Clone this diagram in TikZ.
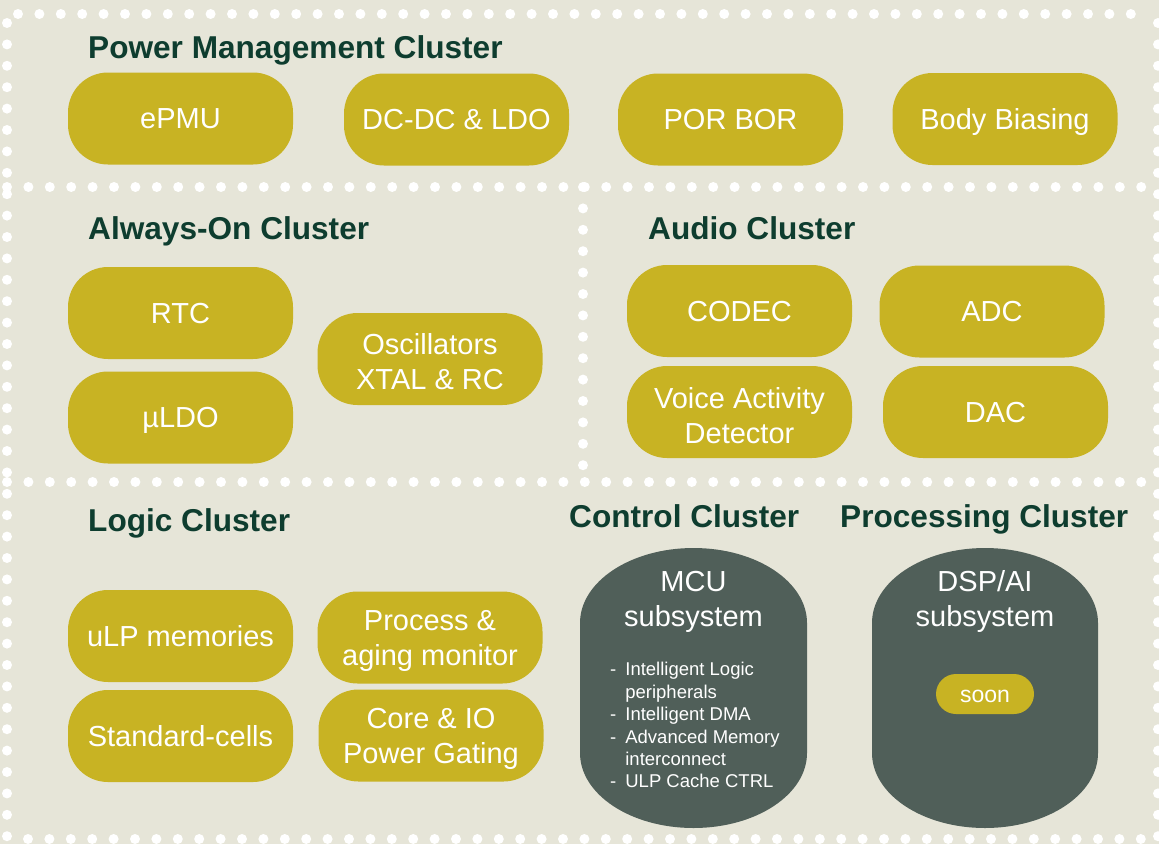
\documentclass[tikz,border=0pt]{standalone}
\usepackage{fontspec}
\setmainfont{Liberation Sans}
\definecolor{paper}{HTML}{E6E5D8}
\definecolor{gold}{HTML}{C8B323}
\definecolor{heading}{HTML}{0E3D2F}
\definecolor{slate}{HTML}{505F59}
\tikzset{
  dots/.style={draw=white, line width=10pt, line cap=round, dash pattern=on 0pt off 21.4pt},
  pillbase/.style={fill=gold, rounded corners=40pt, minimum width=225pt, minimum height=92pt,
    text=white, align=center, inner sep=0pt, font=\fontsize{29}{35}\selectfont},
  pill/.style={pillbase, text height=20.8pt, text depth=0pt},
  pilltwo/.style={pillbase},
  title/.style={anchor=base west, text=heading, inner sep=0pt, font=\fontsize{31.6}{36}\selectfont\bfseries},
  subtitle/.style={text=white, align=center, inner sep=0pt, font=\fontsize{29}{35}\selectfont},
  itemlist/.style={text=white, align=left, inner sep=0pt, anchor=north west, font=\fontsize{18.5}{22.4}\selectfont},
  badge/.style={fill=gold, rounded corners=20pt, minimum width=98pt, minimum height=40pt,
    text=white, inner sep=0pt, font=\fontsize{23}{26}\selectfont},
  capsule/.style={fill=slate}
}
\begin{document}
\begin{tikzpicture}[x=1pt, y=-1pt]
  \fill[paper] (0,0) rectangle (1159,844);
  \useasboundingbox (0,0) rectangle (1159,844);

  % dotted frames
  \draw[dots] (18,14) -- (1152,14);
  \draw[dots] (7,23) -- (7,840);
  \draw[dots] (1158,23) -- (1158,840);
  \draw[dots] (28,839) -- (1150,839);
  \draw[dots] (7,187) -- (1150,187);
  \draw[dots] (7,482) -- (1150,482);
  \draw[dots] (583,187) -- (583,482);

  % Power management
  \node[title] (tpm) at (88,58) {Power Management Cluster};
  \node[pill] (epmu) at (180.5,118.5) {ePMU};
  \node[pill] (dcdc) at (456.5,119.5) {DC-DC \& LDO};
  \node[pill] (por) at (730.5,119.5) {POR BOR};
  \node[pill] (bias) at (1005,119) {Body Biasing};

  % Always-on
  \node[title] (tao) at (88,239) {Always-On Cluster};
  \node[pill] (rtc) at (180.5,313) {RTC};
  \node[pill] (uldo) at (180.5,417.5) {µLDO};
  \node[pilltwo] (osc) at (430,359) {};
  \node[subtitle] at ([yshift=-3pt]osc.center) {Oscillators\\XTAL \& RC};

  % Audio
  \node[title] (tau) at (648,239) {Audio Cluster};
  \node[pill] (codec) at (739.5,311) {CODEC};
  \node[pill] (adc) at (992,311.5) {ADC};
  \node[pilltwo] (vad) at (739.5,412) {};
  \node[subtitle] at ([yshift=-3.5pt]vad.center) {Voice Activity\\Detector};
  \node[pill] (dac) at (995.5,412) {DAC};

  % Logic
  \node[title] (tlg) at (88,531) {Logic Cluster};
  \node[pill] (ulp) at (180.5,636) {uLP memories};
  \node[pill] (stdc) at (180.5,736) {Standard-cells};
  \node[pilltwo] (proc) at (430,637.5) {};
  \node[subtitle] at ([yshift=-3pt]proc.center) {Process \&\\aging monitor};
  \node[pilltwo] (gate) at (431,735.5) {};
  \node[subtitle] at ([yshift=-3pt]gate.center) {Core \& IO\\Power Gating};

  % Control
  \node[title] (tct) at (569,527) {Control Cluster};
  \fill[capsule] (580,623) arc[start angle=180, end angle=360, x radius=113.5, y radius=75]
    -- (807,753) arc[start angle=0, end angle=180, x radius=113.5, y radius=75] -- cycle;
  \node[subtitle] (mcu) at (693.5,601.5) {MCU\\subsystem};
  \node[itemlist] (mculist) at (610,660) {%
    \begin{tabular}{@{}l@{\hspace{9pt}}l@{}}
    - & Intelligent Logic\\
      & peripherals\\
    - & Intelligent DMA\\
    - & Advanced Memory\\
      & interconnect\\
    - & ULP Cache CTRL
    \end{tabular}};

  % Processing
  \node[title] (tpr) at (840,527) {Processing Cluster};
  \fill[capsule] (872,623) arc[start angle=180, end angle=360, x radius=113, y radius=75]
    -- (1098,753) arc[start angle=0, end angle=180, x radius=113, y radius=75] -- cycle;
  \node[subtitle] (dsp) at (985,601.5) {DSP/AI\\subsystem};
  \node[badge, text height=16pt, text depth=0pt] (soon) at (985,694) {soon};
\end{tikzpicture}
\end{document}
